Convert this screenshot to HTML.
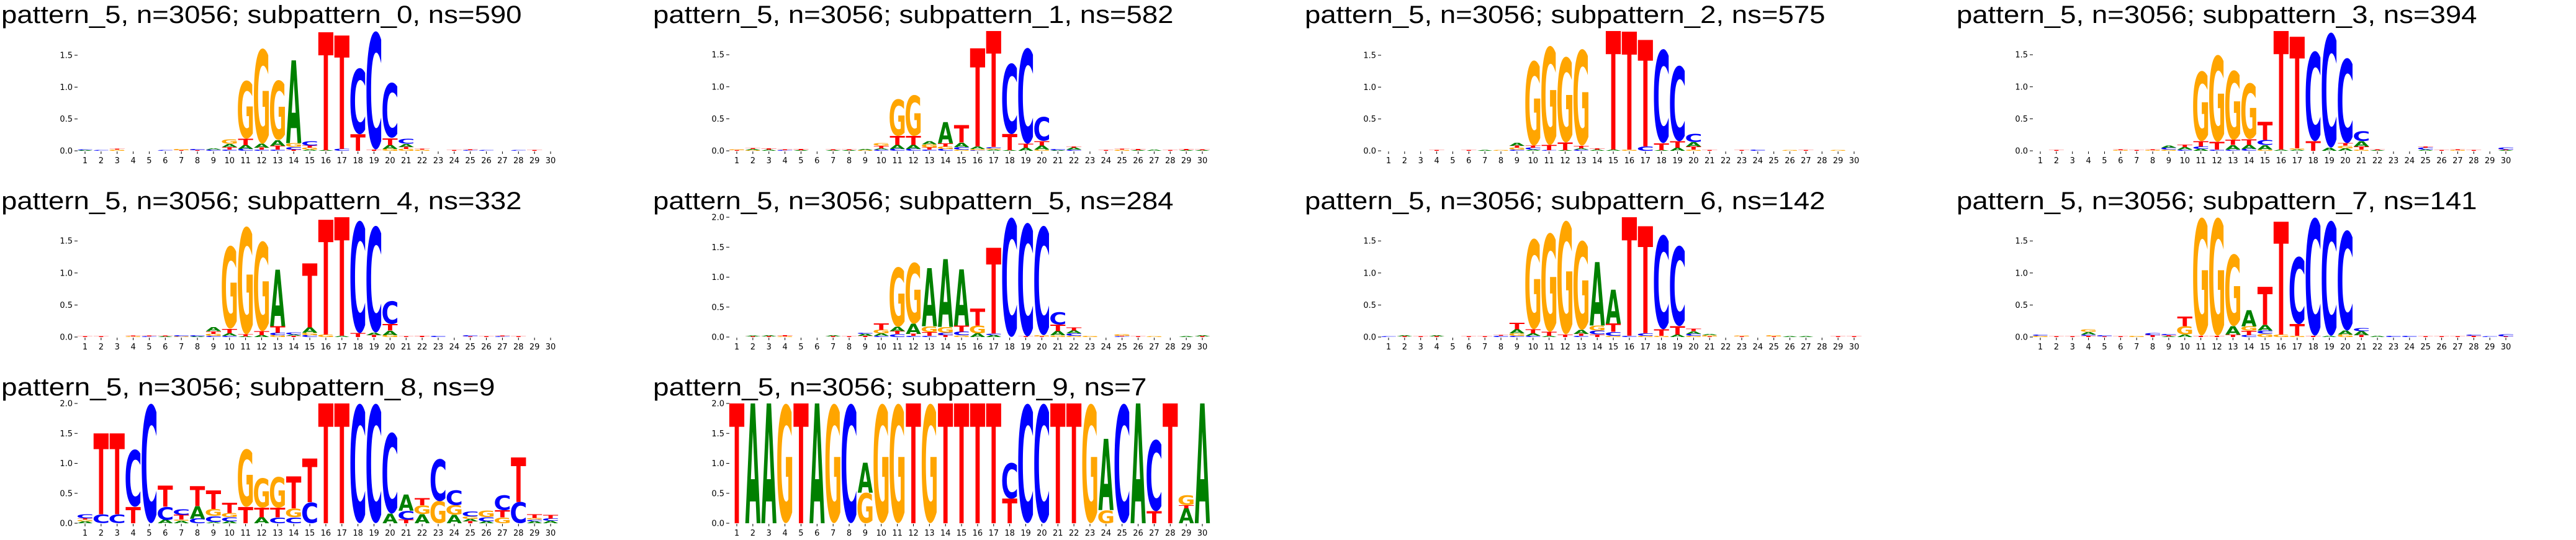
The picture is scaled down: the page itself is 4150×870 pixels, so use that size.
<!DOCTYPE html>
<html><head><meta charset="utf-8"><style>html,body{margin:0;padding:0;background:#fff}svg{display:block}</style></head>
<body>
<svg id="chart" xmlns="http://www.w3.org/2000/svg" width="4150" height="870" viewBox="0 0 4150 870"></svg>
<script>
const titles=["pattern_5, n=3056; subpattern_0, ns=590","pattern_5, n=3056; subpattern_1, ns=582","pattern_5, n=3056; subpattern_2, ns=575","pattern_5, n=3056; subpattern_3, ns=394","pattern_5, n=3056; subpattern_4, ns=332","pattern_5, n=3056; subpattern_5, ns=284","pattern_5, n=3056; subpattern_6, ns=142","pattern_5, n=3056; subpattern_7, ns=141","pattern_5, n=3056; subpattern_8, ns=9","pattern_5, n=3056; subpattern_9, ns=7"];
const positions=[1,2,3,4,5,6,7,8,9,10,11,12,13,14,15,16,17,18,19,20,21,22,23,24,25,26,27,28,29,30];
const p0=["A.01 C.01","C.01","G.02 T.01","","","C.01","T.01 G.02","T.01 C.02","C.02 A.02","C.02 T.04 A.05 G.07","C.03 A.06 T.1 G.92","C.02 T.03 A.06 G1.5","C.02 T.06 A.09 G.94","T.02 C.04 G.06 A1.3","A.02 G.03 T.03 C.07","A.01 T1.85","C.03 T1.78","T.26 C1.04","T.02 C1.86","G.03 A.06 T.11 C.87","G.03 T.03 A.05 C.08","G.02 T.01","","T.01","C.01 T.01","C.01","","C.01","T.01",""];
const p1=["T.01 G.01","G.01 A.02 T.01","A.02 T.02","C.01 T.01","A.01 T.02","","A.01 T.01","A.01 T.01","G.01 A.02","C.02 A.02 T.04 G.04","C.03 A.06 T.14 G.58","C.03 A.06 T.14 G.64","C.02 T.03 G.05 A.05","C.03 G.04 T.05 A.33","G.02 C.04 A.07 T.27","C.01 G.02 A.04 T1.53","A.02 G.02 C.02 T1.81","A.01 T.25 C1.11","A.05 T.06 C1.5","G.02 A.06 T.07 C.38","A.01 C.02","C.02 A.03 T.02","","T.01","G.02 T.01","A.01 T.02","A.02","T.01","A.01 T.02","A.01 T.01"];
const p2=["","","","T.01","","T.01","A.01","G.01","C.02 G.03 T.03 A.05","A.02 C.03 T.03 G1.34","C.01 T.08 G1.56","A.01 T.12 G1.35","C.02 A.02 T.04 G1.52","A.02 T.02","A.02 T1.86","G.02 T1.85","C.07 T1.67","A.01 T.11 C1.48","A.05 T.1 C1.19","G.02 T.05 A.07 C.13","T.01","","T.01","C.02","","G.01","T.01","","G.01",""];
const p3=["","T.01","","","","G.01 T.01","T.01","G.01 T.01","G.02 C.03 A.03","C.02 A.04 T.04","A.03 C.04 T.08 G1.1","C.02 T.12 G1.36","C.02 A.07 T.08 G1.09","C.03 A.06 T.09 G.88","G.02 A.07 C.08 T.28","A.02 T1.85","A.02 G.02 T1.74","T.15 C1.41","A.05 C1.8","A.04 G.04 T.04 C1.33","G.02 T.05 A.08 C.16","A.01 T.01","","","A.02 C.03 T.02","T.01","G.01 T.01","T.01","","A.01 T.01 C.03"];
const p4=["T.01","T.01","","G.01 T.01","C.01 T.01","A.01 T.01","G.01 C.02","A.01 C.02","C.02 G.03 T.04 A.06","C.02 A.04 T.07 G1.3","A.01 T.03 G1.69","A.03 T.06 G1.41","G.03 C.04 T.1 A.88","T.02 A.02 C.03","C.03 G.04 A.08 T1.0","G.04 T1.79","A.02 T1.85","T.06 C1.76","T.03 A.04 C1.67","G.03 A.07 T.1 C.36","T.01","T.02","C.02","","T.01 C.02","T.01","C.01 T.01","T.01","",""];
const p5=["","T.01 A.01","T.01 A.02","G.01 T.02","","","T.01 A.02","T.01","T.02 A.03 C.02","C.02 A.04 G.06 T.11","C.05 T.05 A.07 G1.0","C.02 T.03 A.17 G1.03","C.02 T.06 G.1 A.97","T.03 C.04 G.1 A1.13","G.03 C.06 T.1 A.94","A.06 G.13 T.28","A.03 C.03 T1.43","C2.0","T.01 C1.9","T.01 G.02 C1.83","G.03 A.07 T.11 C.21","G.02 C.04 A.05 T.05","G.02","","C.01 T.01 G.03","T.01","G.01","","A.01","T.01 A.02"];
const p6=["C.01","T.01 A.02","T.01","T.01 A.02","","T.01","T.01","C.02 T.01","C.02 G.04 A.06 T.1","C.02 A.04 T.06 G1.42","A.02 T.06 G1.55","T.04 G1.78","C.02 T.03 A.06 G1.4","T.04 C.06 G.08 A.99","G.02 C.06 T.13 A.53","C.02 T1.85","G.02 C.04 T1.67","G.02 T.1 C1.48","A.04 T.13 C1.26","G.02 C.03 A.04 T.04","T.01 G.02 A.02","","T.01 G.01","","T.01 G.02","A.01","A.01","","T.01","T.01"];
const p7=["G.02 C.02","T.01","T.01","T.02 C.02 A.04 G.04","T.01 C.02","T.01","G.02","T.03 C.03","A.01 T.02 C.02","A.04 G.13 T.15","T.02 G1.85","T.02 G1.85","T.04 A.13 G1.13","C.03 T.07 G.07 A.25","G.05 C.05 A.09 T.59","G.04 T1.76","G.02 T.18 C1.06","T.02 C1.85","A.02 C1.8","G.04 A.06 C1.57","T.03 A.06 C.05","A.02","C.02","C.02","T.01","T.01","T.01","T.02 C.02","C.01","T.01 C.03"];
const p8=["A.03 G.03 T.02 C.07","C.15 T1.35","C.15 T1.35","T.27 C.96","C2.0","A.06 C.22 T.35","A.04 G.02 T.08 C.1","C.08 A.21 T.33","A.02 C.1 G.12 T.31","A.03 C.07 G.07 T.17","T.27 G.97","A.1 T.16 G.5","C.1 T.16 G.52","C.1 G.15 T.53","C.35 T.73","T2.0","T2.0","C2.0","C2.0","A.16 C1.36","T.06 C.15 A.27","A.15 G.15 T.12","G.37 C.71","A.14 G.16 C.25","T.03 A.04 G.04 C.08","A.03 C.07 G.11","G.1 T.12 C.25","C.36 T.74","A.03 C.03 G.03 T.06","A.04 C.04 T.06"];
const p9=["T2.0","A2.0","A2.0","G2.0","T2.0","A2.0","G2.0","C2.0","G.51 A.5","G2.0","G2.0","T2.0","G2.0","T2.0","T2.0","T2.0","T2.0","T.41 C.6","C2.0","C2.0","T2.0","T2.0","G2.0","G.22 A1.19","C2.0","A2.0","T.2 C1.2","T2.0","A.25 T.05 G.17","A2.0"];
const panels=[p0,p1,p2,p3,p4,p5,p6,p7,p8,p9];
const yTicks=[0,0.5,1.0,1.5,2.0];

const NS="http://www.w3.org/2000/svg";
const svg=document.getElementById('chart');
const COLORS={A:"#008000",C:"#0000ff",G:"#ffa500",T:"#ff0000"};
const INK={A:77,C:64,G:71,T:68};
function mk(tag,attrs,parent){const e=document.createElementNS(NS,tag);for(const k in attrs)e.setAttribute(k,attrs[k]);(parent||svg).appendChild(e);return e;}
function parse(s){return s.trim()?s.trim().split(/\s+/).map(t=>[t[0],parseFloat(t.slice(1))]):[];}

panels.forEach((data,pi)=>{
  const col=pi%4,row=Math.floor(pi/4);
  const ox=1050*col, oy=300*row;
  const g=mk('g',{});
  
  
  const t=mk('text',{x:ox+2,y:oy+37,'font-family':'Liberation Sans, sans-serif','font-size':40,textLength:titles[pi].length*21.5,lengthAdjust:'spacingAndGlyphs',fill:'#000'},g);
  t.textContent=titles[pi];
  
  
  const stacks=data.map(parse);
  const ymax=Math.max(...stacks.map(s=>s.reduce((a,b)=>a+b[1],0)));
  const base=oy+243, H=193;
  const yS=v=>base-v/ymax*H;
  const xS=p=>ox+137+(p-1)*(750/29);
  // y ticks
  yTicks.filter(v=>v<=ymax+1e-6).forEach(v=>{
    const y=yS(v);
    const l=mk('line',{x1:ox+120,x2:ox+125,y1:y,y2:y,stroke:'#000','stroke-width':1},g);
    
    
    const tl=mk('text',{x:ox+117,y:y+4.5,'text-anchor':'end','font-family':'DejaVu Sans, sans-serif','font-size':13,fill:'#000'},g);
    tl.textContent=v.toFixed(1);
    
    
  });
  positions.forEach((p,i)=>{
    const x=xS(p);
    const l=mk('line',{x1:x,x2:x,y1:base+1,y2:base+5,stroke:'#000','stroke-width':1},g);
    
    
    const tl=mk('text',{x:x,y:base+20,'text-anchor':'middle','font-family':'DejaVu Sans, sans-serif','font-size':13,fill:'#000'},g);
    tl.textContent=String(p);
    
    
    let cum=0;
    (stacks[i]||[]).forEach(([L,h])=>{
      const y0=yS(cum), y1=yS(cum+h); cum+=h;
      const hp=y0-y1; if(hp<=0.05)return;
      const round=(L==='C'||L==='G');
      const bot=round?1.5:0, capH=round?75.9:72.9;
      const sx=24.5/INK[L], sy=hp/capH;
      const lt=mk('text',{x:0,y:0,'text-anchor':'middle','font-family':'DejaVu Sans, sans-serif','font-weight':'bold','font-size':100,fill:COLORS[L],transform:`translate(${x},${y0-bot*sy}) scale(${sx},${sy})`},g);
      lt.textContent=L;
      
      
    });
  });
});
</script>
</body></html>
